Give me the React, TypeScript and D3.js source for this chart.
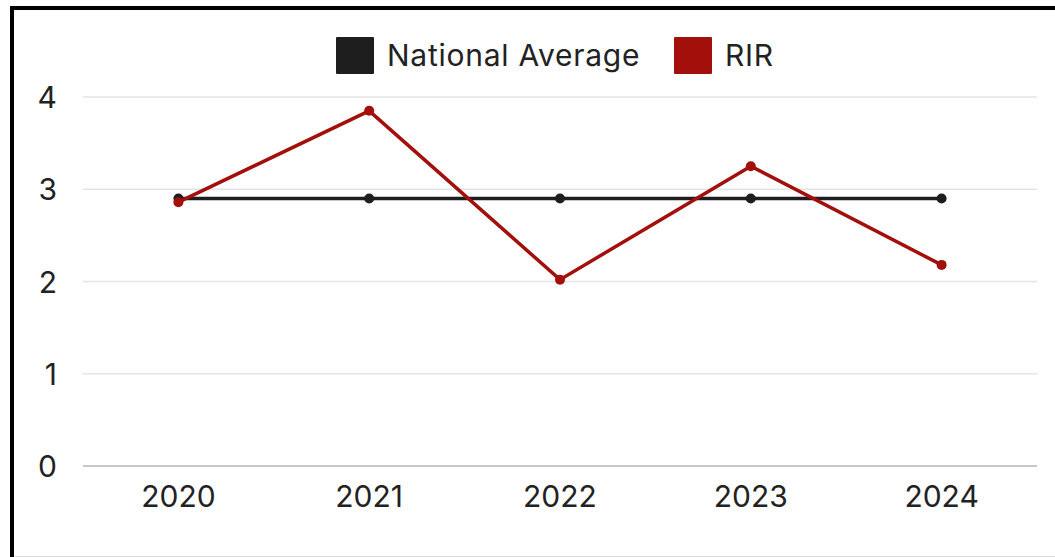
import React from "react";
import * as d3 from "d3";

const years = ["2020", "2021", "2022", "2023", "2024"];
const nationalAverage = [2.9, 2.9, 2.9, 2.9, 2.9];
const rir = [2.86, 3.85, 2.02, 3.25, 2.18];
const yTicks = [0, 1, 2, 3, 4];
const seriesNames = ["National Average", "RIR"];
const seriesColors = ["#1e1e1e", "#a30f0a"];

const W = 1055;
const H = 557;
const FONT = "Inter, 'Open Sans', sans-serif";

export default function App() {
  const x = d3.scalePoint<string>().domain(years).range([83, 1037]).padding(0.5);
  const y = d3.scaleLinear().domain([0, 4]).range([466, 97]);
  const line = d3
    .line<number>()
    .x((_, i) => x(years[i]) as number)
    .y((d) => y(d));
  const series = [nationalAverage, rir];

  const legendX = [336, 674];

  return (
    <div style={{ position: "absolute", left: 0, top: 0 }}>
      <svg width={W} height={H} style={{ display: "block", fontFamily: FONT }}>
        <rect x={0} y={0} width={W} height={H} fill="#fff" />
        {/* frame */}
        <line x1={12} y1={8} x2={W} y2={8} stroke="#000" strokeWidth={4} />
        <line x1={12} y1={6} x2={12} y2={H} stroke="#000" strokeWidth={4} />
        <line x1={14} y1={556.5} x2={W} y2={556.5} stroke="#ddd" strokeWidth={1} />
        {/* grid */}
        {yTicks.map((t) => (
          <g key={t}>
            <line
              x1={83}
              x2={1037}
              y1={y(t)}
              y2={y(t)}
              stroke={t === 0 ? "#c8c8c8" : "#e4e4e4"}
              strokeWidth={t === 0 ? 2 : 1.5}
            />
            <text x={57} y={y(t) + 11} textAnchor="end" fontSize={30} fill="#222">
              {t}
            </text>
          </g>
        ))}
        {years.map((yr) => (
          <text key={yr} x={x(yr)} y={507} textAnchor="middle" fontSize={30} fill="#222">
            {yr}
          </text>
        ))}
        {/* lines */}
        {series.map((s, si) => (
          <g key={si}>
            <path d={line(s) || ""} fill="none" stroke={seriesColors[si]} strokeWidth={3.5} />
            {s.map((v, i) => (
              <circle key={i} cx={x(years[i])} cy={y(v)} r={5} fill={seriesColors[si]} />
            ))}
          </g>
        ))}
        {/* legend */}
        {seriesNames.map((n, i) => (
          <g key={n}>
            <rect x={legendX[i]} y={37} width={38} height={37} rx={1} fill={seriesColors[i]} />
            <text x={legendX[i] + 51} y={66} fontSize={30} letterSpacing={0.75} fill="#222">
              {n}
            </text>
          </g>
        ))}
      </svg>
    </div>
  );
}
